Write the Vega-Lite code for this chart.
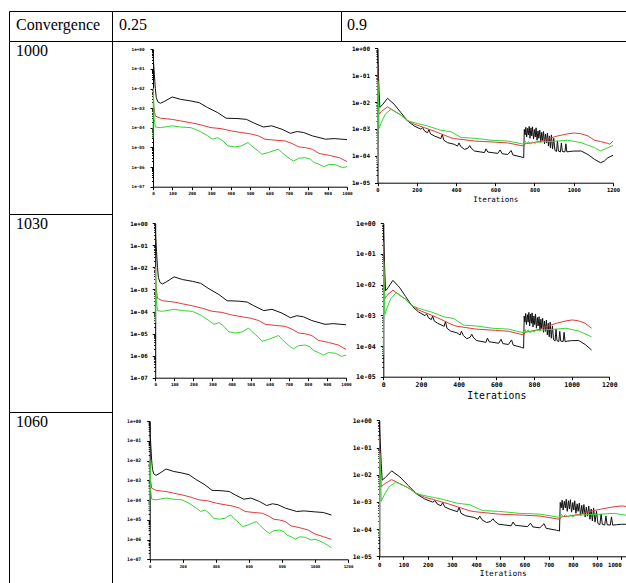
{
  "$schema": "https://vega.github.io/schema/vega-lite/v6.json",
  "padding": {"left": 8, "top": 10, "right": 0, "bottom": 0},
  "background": "white",
  "columns": 3,
  "spacing": 0,
  "bounds": "flush",
  "config": {
    "view": {"stroke": null},
    "concat": {"spacing": 0},
    "axis": {"grid": false, "domainColor": "black", "tickColor": "black", "labelColor": "black", "labelFont": "DejaVu Sans Mono", "labelFontWeight": "bold", "titleFont": "DejaVu Sans Mono", "titleFontWeight": "normal", "titleColor": "black", "labelOverlap": false, "labelFlush": false, "labelBound": false, "tickSize": 3, "domainWidth": 1, "tickWidth": 1},
    "axisX": {"labelPadding": 2},
    "axisY": {"labelPadding": 5}
  },
  "datasets": {
    "lo": [
      {"s":"k","x":0,"v":0.8},{"s":"k","x":3,"v":0.2},{"s":"k","x":7,"v":5.37e-2},{"s":"k","x":12,"v":1e-2},{"s":"k","x":17,"v":3.47e-3},{"s":"k","x":25,"v":2.09e-3},{"s":"k","x":38,"v":1.78e-3},{"s":"k","x":56,"v":2.14e-3},{"s":"k","x":99,"v":3.72e-3},{"s":"k","x":143,"v":2.82e-3},{"s":"k","x":195,"v":2.34e-3},{"s":"k","x":238,"v":1.91e-3},{"s":"k","x":282,"v":1.07e-3},{"s":"k","x":334,"v":5.89e-4},{"s":"k","x":377,"v":3.09e-4},{"s":"k","x":438,"v":2.95e-4},{"s":"k","x":482,"v":2.69e-4},{"s":"k","x":517,"v":1.82e-4},{"s":"k","x":569,"v":1.1e-4},{"s":"k","x":612,"v":1.26e-4},{"s":"k","x":664,"v":8.51e-5},{"s":"k","x":708,"v":5.25e-5},{"s":"k","x":743,"v":6.46e-5},{"s":"k","x":777,"v":5.75e-5},{"s":"k","x":821,"v":3.89e-5},{"s":"k","x":890,"v":2.63e-5},{"s":"k","x":934,"v":2.82e-5},{"s":"k","x":1000,"v":2.51e-5},{"s":"k","x":1050,"v":2.34e-5},{"s":"k","x":1100,"v":1.74e-5},
      {"s":"r","x":0,"v":1e-2},{"s":"r","x":4,"v":1.26e-3},{"s":"r","x":12,"v":3.98e-4},{"s":"r","x":38,"v":3.09e-4},{"s":"r","x":99,"v":2.69e-4},{"s":"r","x":143,"v":2.24e-4},{"s":"r","x":195,"v":1.82e-4},{"s":"r","x":247,"v":1.41e-4},{"s":"r","x":299,"v":1.02e-4},{"s":"r","x":351,"v":9.12e-5},{"s":"r","x":403,"v":6.92e-5},{"s":"r","x":456,"v":5.75e-5},{"s":"r","x":499,"v":5.01e-5},{"s":"r","x":543,"v":3.89e-5},{"s":"r","x":577,"v":2.63e-5},{"s":"r","x":630,"v":2.34e-5},{"s":"r","x":682,"v":2.14e-5},{"s":"r","x":717,"v":1.58e-5},{"s":"r","x":751,"v":1.07e-5},{"s":"r","x":786,"v":9.77e-6},{"s":"r","x":821,"v":8.13e-6},{"s":"r","x":856,"v":4.9e-6},{"s":"r","x":908,"v":3.98e-6},{"s":"r","x":960,"v":3.02e-6},{"s":"r","x":1000,"v":1.91e-6},{"s":"r","x":1050,"v":1.41e-6},{"s":"r","x":1100,"v":1.02e-6},
      {"s":"g","x":0,"v":3e-5},{"s":"g","x":2,"v":1e-2},{"s":"g","x":6,"v":3e-4},{"s":"g","x":12,"v":1.1e-4},{"s":"g","x":38,"v":1.02e-4},{"s":"g","x":99,"v":1.26e-4},{"s":"g","x":143,"v":1.1e-4},{"s":"g","x":195,"v":1.02e-4},{"s":"g","x":238,"v":6.92e-5},{"s":"g","x":282,"v":3.89e-5},{"s":"g","x":308,"v":2.63e-5},{"s":"g","x":334,"v":3.16e-5},{"s":"g","x":360,"v":2.14e-5},{"s":"g","x":386,"v":1.2e-5},{"s":"g","x":421,"v":1.07e-5},{"s":"g","x":456,"v":1.2e-5},{"s":"g","x":490,"v":1.78e-5},{"s":"g","x":508,"v":1.2e-5},{"s":"g","x":543,"v":6.61e-6},{"s":"g","x":560,"v":4.47e-6},{"s":"g","x":595,"v":5.5e-6},{"s":"g","x":630,"v":7.24e-6},{"s":"g","x":647,"v":8.13e-6},{"s":"g","x":664,"v":5.5e-6},{"s":"g","x":708,"v":2.51e-6},{"s":"g","x":725,"v":2.04e-6},{"s":"g","x":751,"v":2.82e-6},{"s":"g","x":786,"v":3.02e-6},{"s":"g","x":812,"v":2.51e-6},{"s":"g","x":830,"v":1.7e-6},{"s":"g","x":856,"v":1.38e-6},{"s":"g","x":882,"v":1.05e-6},{"s":"g","x":908,"v":1.38e-6},{"s":"g","x":943,"v":1.29e-6},{"s":"g","x":977,"v":9.33e-7},{"s":"g","x":1000,"v":1.05e-6},{"s":"g","x":1050,"v":7.08e-7},{"s":"g","x":1100,"v":3.89e-7}
    ],
    "hi": [
      {"s":"k","x":0,"v":0.89},{"s":"k","x":3,"v":0.25},{"s":"k","x":8,"v":2.51e-2},{"s":"k","x":12,"v":6.3e-3},{"s":"k","x":25,"v":7.9e-3},{"s":"k","x":51,"v":1.38e-2},{"s":"k","x":85,"v":8.3e-3},{"s":"k","x":119,"v":4.07e-3},{"s":"k","x":153,"v":2e-3},{"s":"k","x":187,"v":1.29e-3},{"s":"k","x":221,"v":9.77e-4},{"s":"k","x":230,"v":1.12e-3},{"s":"k","x":240,"v":8.3e-4},{"s":"k","x":255,"v":7.24e-4},{"s":"k","x":262,"v":9.55e-4},{"s":"k","x":270,"v":6.6e-4},{"s":"k","x":289,"v":5.5e-4},{"s":"k","x":323,"v":4.37e-4},{"s":"k","x":330,"v":6.3e-4},{"s":"k","x":338,"v":3.8e-4},{"s":"k","x":357,"v":3.09e-4},{"s":"k","x":391,"v":2.69e-4},{"s":"k","x":408,"v":2.29e-4},{"s":"k","x":415,"v":3.02e-4},{"s":"k","x":425,"v":2.19e-4},{"s":"k","x":443,"v":1.74e-4},{"s":"k","x":460,"v":1.91e-4},{"s":"k","x":470,"v":2.4e-4},{"s":"k","x":477,"v":1.95e-4},{"s":"k","x":494,"v":1.51e-4},{"s":"k","x":545,"v":1.32e-4},{"s":"k","x":553,"v":1.82e-4},{"s":"k","x":562,"v":1.38e-4},{"s":"k","x":613,"v":1.23e-4},{"s":"k","x":625,"v":1.66e-4},{"s":"k","x":635,"v":1.2e-4},{"s":"k","x":664,"v":1.12e-4},{"s":"k","x":681,"v":1.58e-4},{"s":"k","x":690,"v":1.07e-4},{"s":"k","x":732,"v":9.12e-5},{"s":"k","x":745,"v":8.51e-5},
      {"s":"k","x":748,"v":9.55e-4},{"s":"k","x":752,"v":6e-4},{"s":"k","x":756,"v":1.15e-3},{"s":"k","x":760,"v":5e-4},{"s":"k","x":765,"v":1.05e-3},{"s":"k","x":769,"v":6e-4},{"s":"k","x":773,"v":1.25e-3},{"s":"k","x":777,"v":4.5e-4},{"s":"k","x":782,"v":1.1e-3},{"s":"k","x":786,"v":5.5e-4},{"s":"k","x":790,"v":1.2e-3},{"s":"k","x":795,"v":4.2e-4},{"s":"k","x":800,"v":9.5e-4},{"s":"k","x":804,"v":5e-4},{"s":"k","x":808,"v":1.1e-3},{"s":"k","x":813,"v":3.8e-4},{"s":"k","x":818,"v":8.5e-4},{"s":"k","x":822,"v":4.5e-4},{"s":"k","x":827,"v":9e-4},{"s":"k","x":832,"v":3.2e-4},{"s":"k","x":837,"v":7.5e-4},{"s":"k","x":841,"v":3.6e-4},{"s":"k","x":846,"v":8e-4},{"s":"k","x":851,"v":2.8e-4},{"s":"k","x":856,"v":6.5e-4},{"s":"k","x":861,"v":3e-4},{"s":"k","x":866,"v":7e-4},{"s":"k","x":871,"v":2.3e-4},{"s":"k","x":876,"v":5.5e-4},{"s":"k","x":881,"v":2e-4},{"s":"k","x":886,"v":6e-4},{"s":"k","x":892,"v":1.8e-4},{"s":"k","x":898,"v":4.5e-4},{"s":"k","x":904,"v":1.6e-4},{"s":"k","x":912,"v":1.45e-4},{"s":"k","x":917,"v":3.6e-4},{"s":"k","x":922,"v":1.5e-4},{"s":"k","x":932,"v":1.4e-4},{"s":"k","x":937,"v":3e-4},{"s":"k","x":942,"v":1.45e-4},{"s":"k","x":955,"v":1.4e-4},{"s":"k","x":960,"v":2.8e-4},{"s":"k","x":965,"v":1.4e-4},{"s":"k","x":980,"v":1.45e-4},{"s":"k","x":1000,"v":1.5e-4},{"s":"k","x":1038,"v":1.51e-4},{"s":"k","x":1072,"v":1.12e-4},{"s":"k","x":1106,"v":7.4e-5},{"s":"k","x":1137,"v":5.5e-5},{"s":"k","x":1157,"v":6.5e-5},{"s":"k","x":1174,"v":8.5e-5},{"s":"k","x":1200,"v":1.05e-4},
      {"s":"r","x":0,"v":0.25},{"s":"r","x":3,"v":3.2e-2},{"s":"r","x":8,"v":3.5e-3},{"s":"r","x":20,"v":4.5e-3},{"s":"r","x":51,"v":6.6e-3},{"s":"r","x":85,"v":4.7e-3},{"s":"r","x":119,"v":3.3e-3},{"s":"r","x":153,"v":2.1e-3},{"s":"r","x":187,"v":1.5e-3},{"s":"r","x":238,"v":1.12e-3},{"s":"r","x":289,"v":8.3e-4},{"s":"r","x":323,"v":6.6e-4},{"s":"r","x":374,"v":4.7e-4},{"s":"r","x":391,"v":4.4e-4},{"s":"r","x":494,"v":3.55e-4},{"s":"r","x":596,"v":3.24e-4},{"s":"r","x":664,"v":3.02e-4},{"s":"r","x":746,"v":2.29e-4},{"s":"r","x":752,"v":2.82e-4},{"s":"r","x":783,"v":3e-4},{"s":"r","x":834,"v":3.55e-4},{"s":"r","x":868,"v":4.37e-4},{"s":"r","x":919,"v":5.5e-4},{"s":"r","x":970,"v":6.6e-4},{"s":"r","x":1004,"v":7.08e-4},{"s":"r","x":1038,"v":6.6e-4},{"s":"r","x":1072,"v":5.5e-4},{"s":"r","x":1106,"v":3.8e-4},{"s":"r","x":1137,"v":3.39e-4},{"s":"r","x":1174,"v":2.9e-4},{"s":"r","x":1183,"v":2.7e-4},{"s":"r","x":1200,"v":3.5e-4},
      {"s":"g","x":0,"v":5e-5},{"s":"g","x":2,"v":6e-2},{"s":"g","x":5,"v":1e-2},{"s":"g","x":8,"v":1.05e-3},{"s":"g","x":20,"v":1.78e-3},{"s":"g","x":40,"v":3.55e-3},{"s":"g","x":68,"v":5.37e-3},{"s":"g","x":119,"v":3.31e-3},{"s":"g","x":153,"v":2e-3},{"s":"g","x":204,"v":1.58e-3},{"s":"g","x":255,"v":1.29e-3},{"s":"g","x":323,"v":8.9e-4},{"s":"g","x":374,"v":7.9e-4},{"s":"g","x":426,"v":4.8e-4},{"s":"g","x":494,"v":4.5e-4},{"s":"g","x":579,"v":3.8e-4},{"s":"g","x":664,"v":3.55e-4},{"s":"g","x":746,"v":2.69e-4},{"s":"g","x":752,"v":3.55e-4},{"s":"g","x":760,"v":2.8e-4},{"s":"g","x":770,"v":3.4e-4},{"s":"g","x":780,"v":2.7e-4},{"s":"g","x":790,"v":3.3e-4},{"s":"g","x":800,"v":2.8e-4},{"s":"g","x":810,"v":3.2e-4},{"s":"g","x":834,"v":3.3e-4},{"s":"g","x":919,"v":3.55e-4},{"s":"g","x":970,"v":3.8e-4},{"s":"g","x":1038,"v":3.09e-4},{"s":"g","x":1106,"v":2e-4},{"s":"g","x":1137,"v":1.51e-4},{"s":"g","x":1174,"v":2e-4},{"s":"g","x":1200,"v":2.45e-4}
    ]
  },
  "resolve": {"scale": {"x": "independent", "y": "independent"}, "axis": {"x": "independent", "y": "independent"}},
  "concat": [
    {"width": 103, "height": 30, "view": {"stroke": "black"}, "data": {"values": [{"label": "Convergence"}]}, "mark": {"type": "text", "align": "left", "baseline": "alphabetic", "font": "Liberation Serif", "fontSize": 16, "color": "black", "dx": -44.5, "dy": 4}, "encoding": {"text": {"field": "label"}}},
    {"width": 229, "height": 30, "view": {"stroke": "black"}, "data": {"values": [{"label": "0.25"}]}, "mark": {"type": "text", "align": "left", "baseline": "alphabetic", "font": "Liberation Serif", "fontSize": 16, "color": "black", "dx": -107.5, "dy": 4}, "encoding": {"text": {"field": "label"}}},
    {"width": 285, "height": 30, "view": {"stroke": "black"}, "data": {"values": [{"label": "0.9"}]}, "mark": {"type": "text", "align": "left", "baseline": "alphabetic", "font": "Liberation Serif", "fontSize": 16, "color": "black", "dx": -136.5, "dy": 4}, "encoding": {"text": {"field": "label"}}},

    {"width": 103, "height": 173, "view": {"stroke": "black"}, "data": {"values": [{"label": "1000"}]}, "mark": {"type": "text", "align": "left", "baseline": "alphabetic", "font": "Liberation Serif", "fontSize": 16, "color": "black", "dx": -44.5, "dy": -71.5}, "encoding": {"text": {"field": "label"}}},
    {
      "width": 229, "height": 173,
      "data": {"name": "lo"},
      "transform": [{"filter": "datum.x <= 1000"}],
      "encoding": {
        "x": {"field": "x", "type": "quantitative", "scale": {"domain": [0, 1000], "range": [41, 235], "nice": false, "zero": false},
              "axis": {"values": [0,100,200,300,400,500,600,700,800,900,1000], "format": "d", "offset": -27.3, "title": null, "labelFontSize": 4.3, "labelFlush": false}},
        "color": {"field": "s", "type": "nominal", "scale": {"domain": ["k","r","g"], "range": ["#111111","#e23a3a","#33d633"]}, "legend": null}
      },
      "layer": [
        {"mark": {"type": "line", "strokeWidth": 1},
         "encoding": {"y": {"field": "v", "type": "quantitative", "scale": {"type": "log", "domain": [1e-7, 1], "range": [145.7, 8.3], "nice": false},
              "axis": {"orient": "left", "values": [1,0.1,0.01,0.001,0.0001,0.00001,0.000001,0.0000001], "offset": -41, "title": null, "labelFontSize": 4.3, "labelPadding": 6, "labelExpr": "'1e' + (log(datum.value) >= -0.0001 ? '+' : '-') + (abs(round(log(datum.value)/LN10)) < 10 ? '0' : '') + abs(round(log(datum.value)/LN10))"}}}},
        {"mark": {"type": "line", "strokeOpacity": 0},
         "encoding": {"y": {"field": "v", "type": "quantitative",
              "axis": {"orient": "left", "offset": -41, "title": null, "labels": false, "domain": false, "tickSize": 1.5, "values": [9e-1,8e-1,7e-1,6e-1,5e-1,4e-1,3e-1,2e-1,9e-2,8e-2,7e-2,6e-2,5e-2,4e-2,3e-2,2e-2,9e-3,8e-3,7e-3,6e-3,5e-3,4e-3,3e-3,2e-3,9e-4,8e-4,7e-4,6e-4,5e-4,4e-4,3e-4,2e-4,9e-5,8e-5,7e-5,6e-5,5e-5,4e-5,3e-5,2e-5,9e-6,8e-6,7e-6,6e-6,5e-6,4e-6,3e-6,2e-6,9e-7,8e-7,7e-7,6e-7,5e-7,4e-7,3e-7,2e-7]}}}}
      ],
      "resolve": {"axis": {"y": "independent"}}
    },
    {
      "width": 285, "height": 173,
      "data": {"name": "hi"},
      "encoding": {
        "x": {"field": "x", "type": "quantitative", "scale": {"domain": [0, 1200], "range": [36.5, 272], "nice": false, "zero": false},
              "axis": {"values": [0,200,400,600,800,1000,1200], "format": "d", "offset": -31.3, "title": "Iterations", "titleFontSize": 7.5, "titlePadding": 2, "labelFontSize": 5.5, "labelFlush": false}},
        "color": {"field": "s", "type": "nominal", "scale": {"domain": ["k","r","g"], "range": ["#111111","#e23a3a","#33d633"]}, "legend": null}
      },
      "layer": [
        {"mark": {"type": "line", "strokeWidth": 1},
         "encoding": {"y": {"field": "v", "type": "quantitative", "scale": {"type": "log", "domain": [1e-5, 1], "range": [141.7, 7.3], "nice": false},
              "axis": {"orient": "left", "values": [1,0.1,0.01,0.001,0.0001,0.00001], "offset": -36.5, "title": null, "labelFontSize": 6, "labelPadding": 5, "labelExpr": "'1e' + (log(datum.value) >= -0.0001 ? '+' : '-') + (abs(round(log(datum.value)/LN10)) < 10 ? '0' : '') + abs(round(log(datum.value)/LN10))"}}}},
        {"mark": {"type": "line", "strokeOpacity": 0},
         "encoding": {"y": {"field": "v", "type": "quantitative",
              "axis": {"orient": "left", "offset": -36.5, "title": null, "labels": false, "domain": false, "tickSize": 1.5, "values": [9e-1,8e-1,7e-1,6e-1,5e-1,4e-1,3e-1,2e-1,9e-2,8e-2,7e-2,6e-2,5e-2,4e-2,3e-2,2e-2,9e-3,8e-3,7e-3,6e-3,5e-3,4e-3,3e-3,2e-3,9e-4,8e-4,7e-4,6e-4,5e-4,4e-4,3e-4,2e-4,9e-5,8e-5,7e-5,6e-5,5e-5,4e-5,3e-5,2e-5]}}}}
      ],
      "resolve": {"axis": {"y": "independent"}}
    },

    {"width": 103, "height": 198, "view": {"stroke": "black"}, "data": {"values": [{"label": "1030"}]}, "mark": {"type": "text", "align": "left", "baseline": "alphabetic", "font": "Liberation Serif", "fontSize": 16, "color": "black", "dx": -44.5, "dy": -84}, "encoding": {"text": {"field": "label"}}},
    {
      "width": 229, "height": 198,
      "data": {"name": "lo"},
      "transform": [{"filter": "datum.x <= 1000"}],
      "encoding": {
        "x": {"field": "x", "type": "quantitative", "scale": {"domain": [0, 1000], "range": [43.2, 234], "nice": false, "zero": false},
              "axis": {"values": [0,100,200,300,400,500,600,700,800,900,1000], "format": "d", "offset": -34.3, "title": null, "labelFontSize": 4.3, "labelFlush": false}},
        "color": {"field": "s", "type": "nominal", "scale": {"domain": ["k","r","g"], "range": ["#111111","#e23a3a","#33d633"]}, "legend": null}
      },
      "layer": [
        {"mark": {"type": "line", "strokeWidth": 1},
         "encoding": {"y": {"field": "v", "type": "quantitative", "scale": {"type": "log", "domain": [1e-7, 1], "range": [163.7, 9.3], "nice": false},
              "axis": {"orient": "left", "values": [1,0.1,0.01,0.001,0.0001,0.00001,0.000001,0.0000001], "offset": -43.2, "title": null, "labelFontSize": 5.8, "labelPadding": 5, "labelExpr": "'1e' + (log(datum.value) >= -0.0001 ? '+' : '-') + (abs(round(log(datum.value)/LN10)) < 10 ? '0' : '') + abs(round(log(datum.value)/LN10))"}}}},
        {"mark": {"type": "line", "strokeOpacity": 0},
         "encoding": {"y": {"field": "v", "type": "quantitative",
              "axis": {"orient": "left", "offset": -43.2, "title": null, "labels": false, "domain": false, "tickSize": 1.5, "values": [9e-1,8e-1,7e-1,6e-1,5e-1,4e-1,3e-1,2e-1,9e-2,8e-2,7e-2,6e-2,5e-2,4e-2,3e-2,2e-2,9e-3,8e-3,7e-3,6e-3,5e-3,4e-3,3e-3,2e-3,9e-4,8e-4,7e-4,6e-4,5e-4,4e-4,3e-4,2e-4,9e-5,8e-5,7e-5,6e-5,5e-5,4e-5,3e-5,2e-5,9e-6,8e-6,7e-6,6e-6,5e-6,4e-6,3e-6,2e-6,9e-7,8e-7,7e-7,6e-7,5e-7,4e-7,3e-7,2e-7]}}}}
      ],
      "resolve": {"axis": {"y": "independent"}}
    },
    {
      "width": 285, "height": 198,
      "data": {"name": "hi"},
      "transform": [{"filter": "datum.x <= 1106"}],
      "encoding": {
        "x": {"field": "x", "type": "quantitative", "scale": {"domain": [0, 1200], "range": [42.3, 268.3], "nice": false, "zero": false},
              "axis": {"values": [0,200,400,600,800,1000,1200], "format": "d", "offset": -35.3, "title": "Iterations", "titleFontSize": 9.8, "titlePadding": 2, "labelFontSize": 6.5, "labelFlush": false}},
        "color": {"field": "s", "type": "nominal", "scale": {"domain": ["k","r","g"], "range": ["#111111","#e23a3a","#33d633"]}, "legend": null}
      },
      "layer": [
        {"mark": {"type": "line", "strokeWidth": 1},
         "encoding": {"y": {"field": "v", "type": "quantitative", "scale": {"type": "log", "domain": [1e-5, 1], "range": [162.7, 9.3], "nice": false},
              "axis": {"orient": "left", "values": [1,0.1,0.01,0.001,0.0001,0.00001], "offset": -42.3, "title": null, "labelFontSize": 6.6, "labelPadding": 5, "labelExpr": "'1e' + (log(datum.value) >= -0.0001 ? '+' : '-') + (abs(round(log(datum.value)/LN10)) < 10 ? '0' : '') + abs(round(log(datum.value)/LN10))"}}}},
        {"mark": {"type": "line", "strokeOpacity": 0},
         "encoding": {"y": {"field": "v", "type": "quantitative",
              "axis": {"orient": "left", "offset": -42.3, "title": null, "labels": false, "domain": false, "tickSize": 1.5, "values": [9e-1,8e-1,7e-1,6e-1,5e-1,4e-1,3e-1,2e-1,9e-2,8e-2,7e-2,6e-2,5e-2,4e-2,3e-2,2e-2,9e-3,8e-3,7e-3,6e-3,5e-3,4e-3,3e-3,2e-3,9e-4,8e-4,7e-4,6e-4,5e-4,4e-4,3e-4,2e-4,9e-5,8e-5,7e-5,6e-5,5e-5,4e-5,3e-5,2e-5]}}}}
      ],
      "resolve": {"axis": {"y": "independent"}}
    },

    {"width": 103, "height": 171, "view": {"stroke": "black"}, "data": {"values": [{"label": "1060"}]}, "mark": {"type": "text", "align": "left", "baseline": "alphabetic", "font": "Liberation Serif", "fontSize": 16, "color": "black", "dx": -44.5, "dy": -70.5}, "encoding": {"text": {"field": "label"}}},
    {
      "width": 229, "height": 171,
      "data": {"name": "lo"},
      "encoding": {
        "x": {"field": "x", "type": "quantitative", "scale": {"domain": [0, 1200], "range": [37.7, 236], "nice": false, "zero": false},
              "axis": {"values": [0,200,400,600,800,1000,1200], "format": "d", "offset": -23.7, "title": null, "labelFontSize": 4, "labelFlush": false}},
        "color": {"field": "s", "type": "nominal", "scale": {"domain": ["k","r","g"], "range": ["#111111","#e23a3a","#33d633"]}, "legend": null}
      },
      "layer": [
        {"mark": {"type": "line", "strokeWidth": 1},
         "encoding": {"y": {"field": "v", "type": "quantitative", "scale": {"type": "log", "domain": [1e-7, 1], "range": [147.3, 9], "nice": false},
              "axis": {"orient": "left", "values": [1,0.1,0.01,0.001,0.0001,0.00001,0.000001,0.0000001], "offset": -37.7, "title": null, "labelFontSize": 4.7, "labelPadding": 6, "labelExpr": "'1e' + (log(datum.value) >= -0.0001 ? '+' : '-') + (abs(round(log(datum.value)/LN10)) < 10 ? '0' : '') + abs(round(log(datum.value)/LN10))"}}}},
        {"mark": {"type": "line", "strokeOpacity": 0},
         "encoding": {"y": {"field": "v", "type": "quantitative",
              "axis": {"orient": "left", "offset": -37.7, "title": null, "labels": false, "domain": false, "tickSize": 1.5, "values": [9e-1,8e-1,7e-1,6e-1,5e-1,4e-1,3e-1,2e-1,9e-2,8e-2,7e-2,6e-2,5e-2,4e-2,3e-2,2e-2,9e-3,8e-3,7e-3,6e-3,5e-3,4e-3,3e-3,2e-3,9e-4,8e-4,7e-4,6e-4,5e-4,4e-4,3e-4,2e-4,9e-5,8e-5,7e-5,6e-5,5e-5,4e-5,3e-5,2e-5,9e-6,8e-6,7e-6,6e-6,5e-6,4e-6,3e-6,2e-6,9e-7,8e-7,7e-7,6e-7,5e-7,4e-7,3e-7,2e-7]}}}}
      ],
      "resolve": {"axis": {"y": "independent"}}
    },
    {
      "width": 285, "height": 171,
      "data": {"name": "hi"},
      "transform": [{"filter": "datum.x <= 1038"}],
      "encoding": {
        "x": {"field": "x", "type": "quantitative", "scale": {"domain": [0, 1020], "range": [38.3, 285], "nice": false, "zero": false},
              "axis": {"values": [0,100,200,300,400,500,600,700,800,900,1000], "format": "d", "offset": -26.7, "title": "Iterations", "titleFontSize": 7.8, "titlePadding": 2, "labelFontSize": 5.7, "labelFlush": false, "labelAlign": {"condition": {"test": "datum.value == 1000", "value": "right"}, "value": "center"}}},
        "color": {"field": "s", "type": "nominal", "scale": {"domain": ["k","r","g"], "range": ["#111111","#e23a3a","#33d633"]}, "legend": null}
      },
      "layer": [
        {"mark": {"type": "line", "strokeWidth": 1, "clip": true},
         "encoding": {"y": {"field": "v", "type": "quantitative", "scale": {"type": "log", "domain": [1e-5, 1], "range": [144.3, 8.3], "nice": false},
              "axis": {"orient": "left", "values": [1,0.1,0.01,0.001,0.0001,0.00001], "offset": -38.3, "title": null, "labelFontSize": 6.3, "labelPadding": 5, "labelExpr": "'1e' + (log(datum.value) >= -0.0001 ? '+' : '-') + (abs(round(log(datum.value)/LN10)) < 10 ? '0' : '') + abs(round(log(datum.value)/LN10))"}}}},
        {"mark": {"type": "line", "strokeOpacity": 0, "clip": true},
         "encoding": {"y": {"field": "v", "type": "quantitative",
              "axis": {"orient": "left", "offset": -38.3, "title": null, "labels": false, "domain": false, "tickSize": 1.5, "values": [9e-1,8e-1,7e-1,6e-1,5e-1,4e-1,3e-1,2e-1,9e-2,8e-2,7e-2,6e-2,5e-2,4e-2,3e-2,2e-2,9e-3,8e-3,7e-3,6e-3,5e-3,4e-3,3e-3,2e-3,9e-4,8e-4,7e-4,6e-4,5e-4,4e-4,3e-4,2e-4,9e-5,8e-5,7e-5,6e-5,5e-5,4e-5,3e-5,2e-5]}}}}
      ],
      "resolve": {"axis": {"y": "independent"}}
    }
  ]
}
